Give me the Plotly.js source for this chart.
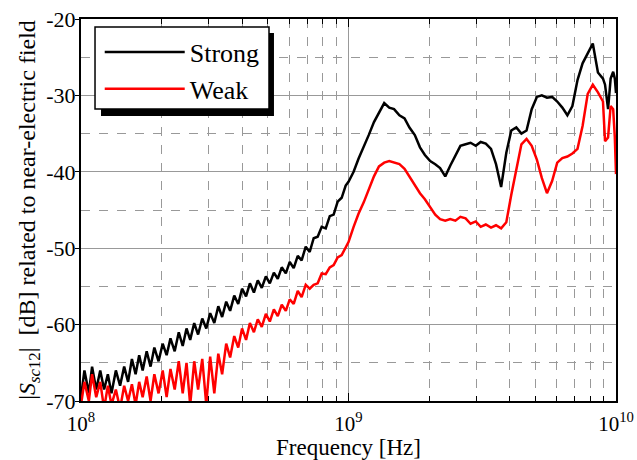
<!DOCTYPE html>
<html><head><meta charset="utf-8">
<script src="https://cdn.plot.ly/plotly-3.0.1.min.js"></script>
<style>html,body{margin:0;padding:0;background:#fff}</style>
</head><body>
<div id="chart" style="width:637px;height:460px"></div>
<script>
// Frequency in MHz
const freqMHz = [100,103,107,110,114,118,122,126,130,135,140,145,150,155,160,165,170,176,182,188,
195,202,209,216,224,232,240,248,256,265,274,284,294,304,315,326,337,349,361,374,
387,400,414,428,443,458,474,491,508,526,544,563,583,603,624,646,668,692,716,741,
767,794,822,851,880,911,943,976,1000,
1045,1090,1140,1190,1245,1300,1360,1420,1480,1550,1620,1690,1770,1850,1930,2020,2110,2200,2300,2400,
2510,2620,2740,2860,2990,3120,3260,3410,3560,3720,3890,4060,4240,4430,4630,4840,5060,5280,5520,5770,
6030,6300,6580,6870,7180,7500,7840,8190,8560,8940,9100,9340,9550,9760,9900,10000];

const strongDb = [-69.5,-66,-69,-65.5,-68.5,-66,-68.5,-66.5,-69,-66,-68,-65.5,-67.5,-64.5,-66.5,-64,-66,-63.5,-65.5,-63,
-64.8,-62.5,-64,-61.8,-63.5,-61,-62.8,-60.5,-62,-59.8,-61.3,-59.2,-60.5,-58.5,-59.8,-57.6,-59,-57,-58.2,-56.2,
-57.3,-55.3,-56.3,-54.6,-55.8,-54.2,-55.2,-53.7,-54.6,-53.2,-54,-52.5,-53.3,-51.8,-52.6,-51,-51.6,-49.8,-50.5,-48.7,
-48.5,-47.2,-47.4,-45.8,-45.6,-43.9,-43.4,-41.8,-41.3,
-40.0,-38.3,-36.8,-35.2,-33.5,-32.2,-31.0,-31.6,-31.8,-32.6,-33.0,-34.2,-35.2,-36.8,-37.8,-38.6,-39.0,-39.5,-40.6,-39.2,
-37.8,-36.6,-36.4,-36.2,-36.6,-36.1,-36.3,-37.0,-39.0,-42.0,-37.5,-34.6,-34.2,-35.0,-34.6,-31.8,-30.2,-30.0,-30.3,-30.2,
-30.8,-31.6,-32.6,-31.4,-28.0,-25.8,-24.5,-23.2,-27.0,-27.8,-28.6,-31.8,-27.8,-26.9,-27.8,-29.7];

const weakDb = [-70.5,-67.5,-70,-66.5,-69.5,-67.5,-71,-68,-70.5,-68.5,-71,-68,-70,-67.8,-70.5,-67.5,-69.5,-66.8,-70,-66.5,
-69,-66,-69.5,-65.8,-68.5,-64.8,-69,-65,-70.5,-64.8,-68.5,-64.5,-70.5,-64.2,-69,-63.8,-66.5,-62.5,-64.3,-61.5,
-63,-60.5,-62,-59.8,-61,-59.3,-60.3,-58.6,-59.6,-58,-58.9,-57.4,-58.2,-56.7,-57.3,-55.6,-56.4,-54.8,-55.3,-54.8,
-54.6,-53.3,-53.4,-52.5,-52.2,-51.2,-50.9,-49.8,-49.2,
-47.2,-45.5,-44.0,-42.3,-40.6,-39.3,-38.8,-38.6,-38.8,-39.0,-39.6,-40.6,-41.6,-42.8,-43.6,-44.6,-45.6,-46.2,-46.4,-46.2,
-46.4,-45.9,-46.1,-46.8,-46.5,-47.2,-46.9,-47.3,-47.0,-47.4,-46.6,-43.0,-39.5,-36.4,-35.7,-36.6,-38.4,-40.8,-42.8,-41.2,
-38.8,-38.2,-38.0,-37.6,-37.0,-34.0,-29.8,-28.6,-29.6,-30.8,-36.0,-35.5,-31.4,-31.8,-35.5,-40.3];

const seriesNames = ['Strong','Weak'];
const seriesColors = ['#000000','#ff0000'];
const xTickVals = [1e8,1e9,1e10];
const xTickText = ['10<sup>8</sup>','10<sup>9</sup>','10<sup>10</sup>'];
const xMinorVals = [2e8,3e8,4e8,5e8,6e8,7e8,8e8,9e8,2e9,3e9,4e9,5e9,6e9,7e9,8e9,9e9];
const yTickVals = [-70,-60,-50,-40,-30,-20];
const yTickText = ['-70','-60','-50','-40','-30','-20'];
const yMinorVals = [-65,-55,-45,-35,-25];

const freqHz = freqMHz.map(f => f * 1e6);
const font = 'Liberation Serif, Times New Roman, serif';

const traces = [strongDb, weakDb].map((ys, i) => ({
  x: freqHz, y: ys, type: 'scatter', mode: 'lines', name: seriesNames[i],
  line: {color: seriesColors[i], width: 2.5}
}));

const layout = {
  width: 637, height: 460,
  margin: {l: 81, r: 21, t: 19, b: 59},
  paper_bgcolor: '#fff', plot_bgcolor: '#fff',
  font: {family: font, color: '#000', size: 20},
  showlegend: true,
  legend: {
    x: 0.035, y: 0.975, xanchor: 'left', yanchor: 'top',
    bgcolor: 'rgba(0,0,0,0)', borderwidth: 0,
    font: {family: font, size: 26, color: '#000'},
    itemwidth: 80
  },
  xaxis: {
    type: 'log', range: [8, 10],
    tickmode: 'array', tickvals: xTickVals, ticktext: xTickText,
    ticks: 'inside', ticklen: 8, tickcolor: '#000', tickwidth: 1,
    ticklabelstandoff: 3,
    showgrid: true, gridcolor: '#999', gridwidth: 1,
    minor: {tickmode: 'array', tickvals: xMinorVals, showgrid: true, gridcolor: '#999',
            griddash: 'dash', gridwidth: 1, ticks: 'inside', ticklen: 5, tickcolor: '#000'},
    showline: true, linecolor: '#000', linewidth: 2, mirror: 'ticks',
    zeroline: false,
    tickfont: {family: font, size: 21},
    title: {text: 'Frequency [Hz]', font: {family: font, size: 23}, standoff: 2}
  },
  yaxis: {
    range: [-70, -20],
    tickmode: 'array', tickvals: yTickVals, ticktext: yTickText,
    ticks: 'outside', ticklen: 4, tickcolor: '#000',
    ticklabelstandoff: -5,
    showgrid: true, gridcolor: '#999', gridwidth: 1,
    minor: {tickmode: 'array', tickvals: yMinorVals, showgrid: true, gridcolor: '#999',
            griddash: 'dash', gridwidth: 1},
    showline: true, linecolor: '#000', linewidth: 2, mirror: true,
    zeroline: false,
    tickfont: {family: font, size: 22},
    title: {text: '|<i>S</i><sub><i>sc</i>12</sub>|  [dB] related to near-electric field',
            font: {family: font, size: 24}, standoff: 4}
  },
  shapes: [
    {type: 'rect', xref: 'paper', yref: 'paper', x0: 0.0374, x1: 0.3607, y0: 0.7461, y1: 0.9634,
     fillcolor: '#000', line: {width: 0}, layer: 'above'},
    {type: 'rect', xref: 'paper', yref: 'paper', x0: 0.0262, x1: 0.3514, y0: 0.7644, y1: 0.9791,
     fillcolor: '#fff', line: {color: '#000', width: 1.5}, layer: 'above'}
  ]
};

Plotly.newPlot('chart', traces, layout, {staticPlot: true, displayModeBar: false});
</script>
</body></html>
